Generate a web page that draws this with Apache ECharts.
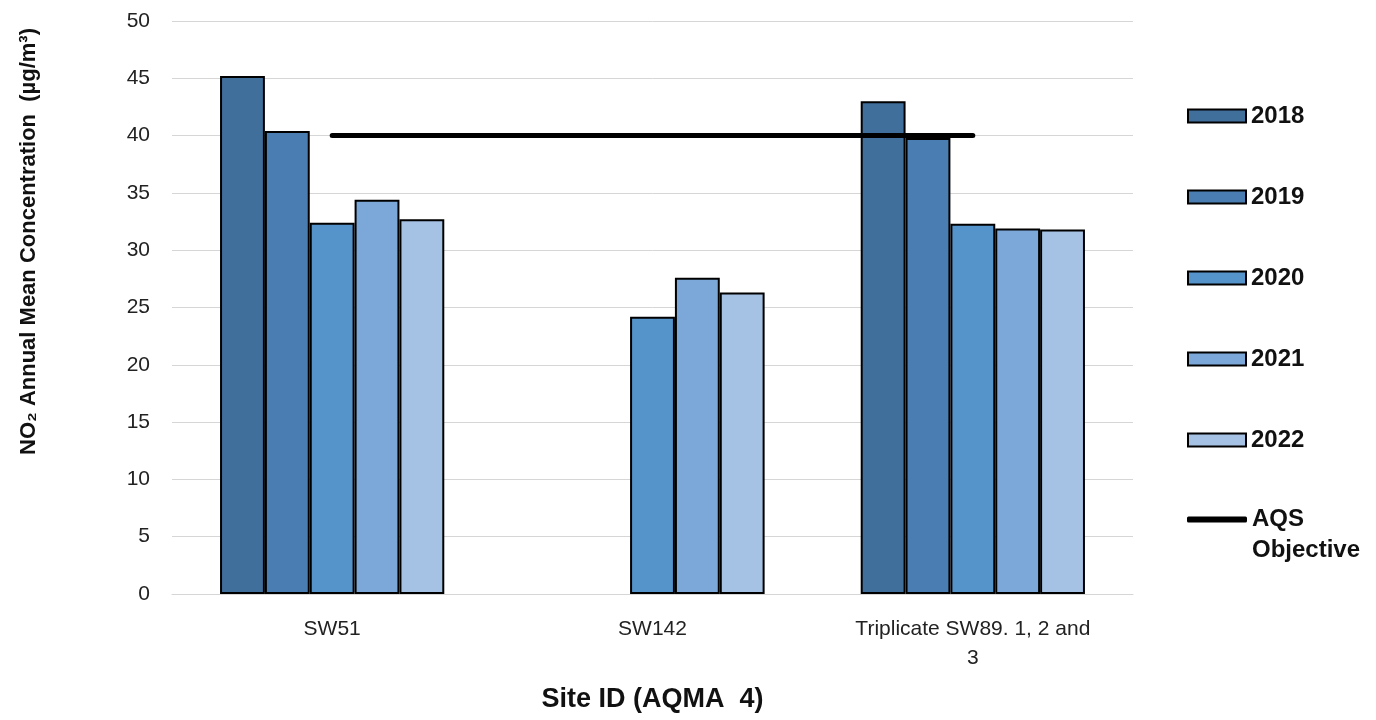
<!DOCTYPE html>
<html>
<head>
<meta charset="utf-8">
<script src="https://cdn.jsdelivr.net/npm/echarts@6/dist/echarts.min.js"></script>
<style>
  html, body { margin: 0; padding: 0; background: #fff; }
  #chart { width: 1376px; height: 720px; }
</style>
</head>
<body>
<div id="chart"></div>
<script>
// Sites along the category axis
const sites = ['SW51', 'SW142', 'Triplicate SW89. 1, 2 and\n3'];
// Annual mean NO2 by year (µg/m³); null where no monitoring that year
const years = ['2018', '2019', '2020', '2021', '2022'];
const v2018 = [45.2, null, 43.0];
const v2019 = [40.4, null, 39.8];
const v2020 = [32.4, 24.2, 32.3];
const v2021 = [34.4, 27.6, 31.9];
const v2022 = [32.7, 26.3, 31.8];
// Air Quality Strategy objective
const aqsObjective = [40, 40, 40];
const yTicks = { min: 0, max: 50, step: 5 };

const barColors = ['#416F9B', '#4A7EB3', '#5593CB', '#7BA8D8', '#A5C1E4'];
const yearValues = [v2018, v2019, v2020, v2021, v2022];
const FONT = '"Liberation Sans", Arial, sans-serif';

const barSeries = years.map((y, i) => ({
  name: y,
  type: 'bar',
  data: yearValues[i],
  barGap: '0%',
  barCategoryGap: '30%',
  itemStyle: { color: barColors[i], borderColor: '#000', borderWidth: 2 },
  z: 2
}));

const chart = echarts.init(document.getElementById('chart'), null, { renderer: 'canvas' });
chart.setOption({
  animation: false,
  backgroundColor: '#fff',
  textStyle: { fontFamily: FONT },
  grid: { left: 172, right: 243, top: 21, bottom: 126 },
  legend: [
    {
      data: years,
      icon: 'rect',
      orient: 'vertical',
      left: 1182,
      top: 99,
      itemWidth: 58,
      itemHeight: 13,
      itemGap: 57,
      textStyle: { fontFamily: FONT, fontSize: 24, fontWeight: 'bold', color: '#111', lineHeight: 24 }
    },
    {
      // blank first line keeps "AQS" level with the line icon, "Objective" wraps below
      data: ['AQS Objective'],
      icon: 'roundRect',
      formatter: () => ' \nAQS\nObjective',
      orient: 'vertical',
      left: 1182,
      top: 468,
      itemWidth: 60,
      itemHeight: 6,
      textStyle: { fontFamily: FONT, fontSize: 24, fontWeight: 'bold', color: '#111', lineHeight: 31 }
    }
  ],
  xAxis: {
    type: 'category',
    data: sites,
    name: 'Site ID (AQMA  4)',
    nameLocation: 'middle',
    nameGap: 92,
    nameTextStyle: { fontFamily: FONT, fontSize: 27, fontWeight: 'bold', color: '#111' },
    axisLine: { show: true, lineStyle: { color: '#d6d6d6', width: 1 } },
    axisTick: { show: false },
    axisLabel: { fontFamily: FONT, fontSize: 21, color: '#222', margin: 21, lineHeight: 29, interval: 0 }
  },
  yAxis: {
    type: 'value',
    min: yTicks.min,
    max: yTicks.max,
    interval: yTicks.step,
    name: 'NO₂ Annual Mean Concentration  (µg/m³)',
    nameLocation: 'middle',
    nameRotate: 90,
    nameGap: 132,
    nameTextStyle: { fontFamily: FONT, fontSize: 22, fontWeight: 'bold', color: '#111', padding: [0, 0, 0, 132] },
    axisLine: { show: false },
    axisTick: { show: false },
    axisLabel: { fontFamily: FONT, fontSize: 21, color: '#222', margin: 22 },
    splitLine: { lineStyle: { color: '#d6d6d6', width: 1 } }
  },
  series: [
    ...barSeries,
    {
      name: 'AQS Objective',
      type: 'line',
      data: aqsObjective,
      symbol: 'none',
      itemStyle: { color: '#000' },
      lineStyle: { color: '#000', width: 5, cap: 'round' },
      z: 5
    }
  ]
});
</script>
</body>
</html>
